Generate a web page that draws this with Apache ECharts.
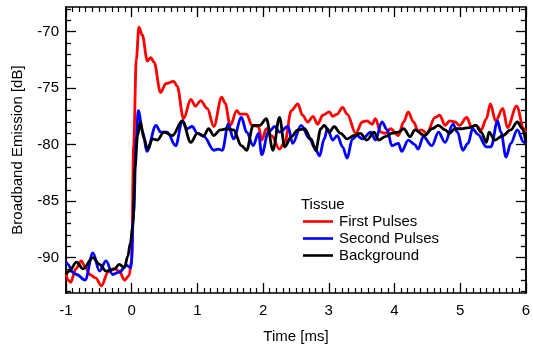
<!DOCTYPE html>
<html>
<head>
<meta charset="utf-8">
<script src="https://cdn.jsdelivr.net/npm/echarts@6/dist/echarts.min.js"></script>
<style>
  html, body { margin: 0; padding: 0; background: #fff; }
  #main { width: 533px; height: 349px; }
</style>
</head>
<body>
<div id="main"></div>
<script>
// time [ms] and broadband emission [dB]
var redTime = [-1.00,-0.97,-0.93,-0.85,-0.77,-0.70,-0.64,-0.55,-0.46,-0.36,-0.26,-0.19,-0.11,-0.04,0.00,0.03,0.07,0.11,0.16,0.24,0.29,0.34,0.44,0.52,0.64,0.69,0.79,0.90,0.97,1.05,1.15,1.25,1.37,1.42,1.50,1.60,1.65,1.75,1.83,1.93,1.98,2.05,2.13,2.25,2.33,2.43,2.53,2.60,2.68,2.76,2.83,2.91,3.01,3.06,3.13,3.21,3.28,3.41,3.51,3.58,3.66,3.71,3.79,3.86,3.94,4.06,4.14,4.21,4.29,4.36,4.41,4.49,4.62,4.69,4.77,4.84,4.92,4.99,5.10,5.17,5.24,5.32,5.40,5.46,5.54,5.65,5.72,5.86,5.97,6.00];
var redValue = [-91.4,-92.0,-92.2,-91.0,-90.3,-90.9,-91.5,-91.8,-92.5,-91.3,-91.0,-91.2,-92.0,-91.6,-90.2,-80.0,-72.5,-69.6,-70.3,-72.6,-72.3,-72.7,-75.4,-74.6,-74.4,-74.8,-77.7,-76.0,-76.6,-76.1,-76.8,-78.4,-75.8,-76.3,-78.3,-77.0,-77.3,-77.3,-78.3,-78.4,-79.6,-78.6,-79.2,-80.4,-79.8,-77.0,-76.4,-77.4,-78.0,-77.5,-78.2,-77.4,-77.1,-77.5,-77.3,-76.7,-77.3,-79.0,-78.0,-77.9,-78.2,-77.7,-78.9,-79.0,-78.6,-79.2,-78.0,-77.1,-78.0,-78.8,-78.7,-79.0,-77.6,-77.4,-78.3,-77.9,-78.0,-78.3,-77.6,-78.4,-78.3,-78.7,-77.7,-76.4,-77.9,-76.8,-78.5,-76.6,-78.6,-78.9];

var blueTime = [-1.00,-0.97,-0.90,-0.84,-0.71,-0.59,-0.49,-0.39,-0.29,-0.19,-0.08,-0.01,0.03,0.07,0.10,0.17,0.23,0.37,0.44,0.54,0.67,0.77,0.84,0.92,1.00,1.10,1.25,1.32,1.38,1.47,1.55,1.67,1.75,1.85,1.93,1.98,2.08,2.18,2.25,2.38,2.45,2.58,2.71,2.78,2.86,2.93,2.98,3.06,3.13,3.21,3.28,3.36,3.43,3.51,3.64,3.71,3.81,3.89,3.96,4.06,4.11,4.21,4.31,4.36,4.44,4.57,4.67,4.77,4.89,4.96,5.04,5.12,5.19,5.27,5.40,5.47,5.57,5.62,5.70,5.77,5.87,5.97,6.00];
var blueValue = [-90.4,-90.6,-91.3,-91.5,-92.0,-89.6,-91.2,-90.3,-91.5,-91.3,-90.7,-90.9,-86.0,-79.5,-77.0,-78.9,-80.6,-78.3,-78.9,-78.9,-80.1,-77.9,-78.6,-78.4,-79.0,-79.3,-80.5,-80.4,-80.5,-78.2,-79.5,-77.6,-78.9,-80.1,-79.0,-80.9,-78.9,-78.4,-78.9,-78.4,-79.9,-78.3,-79.5,-80.2,-81.0,-79.5,-78.6,-79.6,-79.2,-80.2,-81.2,-79.5,-79.2,-79.5,-78.9,-79.6,-78.0,-78.7,-80.1,-79.9,-80.6,-79.6,-80.0,-80.4,-79.3,-80.1,-78.9,-79.8,-78.2,-78.9,-80.5,-79.9,-78.6,-79.1,-80.2,-80.2,-77.9,-78.9,-81.1,-79.9,-78.7,-79.8,-79.9];

var blackTime = [-1.00,-0.95,-0.84,-0.74,-0.59,-0.49,-0.39,-0.26,-0.19,-0.11,-0.06,-0.02,0.02,0.05,0.09,0.13,0.19,0.24,0.32,0.39,0.49,0.62,0.77,0.90,1.00,1.10,1.17,1.25,1.35,1.45,1.55,1.67,1.75,1.85,1.95,2.05,2.15,2.25,2.33,2.43,2.53,2.63,2.73,2.80,2.88,2.93,3.01,3.08,3.18,3.28,3.38,3.48,3.58,3.69,3.76,3.86,3.96,4.06,4.14,4.24,4.31,4.46,4.57,4.67,4.77,4.84,4.92,5.02,5.14,5.24,5.32,5.40,5.44,5.53,5.65,5.77,5.87,5.95,6.00];
var blackValue = [-91.5,-91.2,-90.4,-91.0,-90.0,-90.6,-91.2,-91.0,-90.6,-90.9,-89.9,-88.7,-87.0,-82.0,-79.2,-78.0,-79.5,-80.4,-79.5,-79.6,-78.9,-79.2,-77.9,-79.8,-79.0,-79.2,-78.6,-79.2,-78.7,-78.6,-78.7,-80.1,-80.5,-78.3,-78.3,-77.7,-80.5,-77.6,-80.2,-79.3,-78.7,-78.6,-79.5,-80.5,-78.6,-78.3,-78.9,-78.4,-79.0,-79.5,-79.2,-79.0,-79.6,-78.9,-79.6,-79.3,-79.0,-78.9,-78.6,-79.3,-78.7,-79.2,-78.6,-78.3,-78.7,-79.0,-78.6,-78.6,-78.5,-78.3,-78.9,-79.8,-78.9,-79.6,-79.2,-78.7,-78.0,-78.6,-79.8];

var seriesNames = ['First Pulses', 'Second Pulses', 'Background'];
var yMajor = [-90, -85, -80, -75, -70];
var yMinor = [-93, -92, -91, -89, -88, -87, -86, -84, -83, -82, -81, -79, -78, -77, -76, -74, -73, -72, -71, -69, -68];

function pairs(t, v) {
    var out = [];
    for (var i = 0; i < t.length; i++) out.push([t[i], v[i]]);
    return out;
}

var font = "'Liberation Sans', Arial, sans-serif";
var dom = document.getElementById('main');
var myChart = echarts.init(dom, null, {renderer: 'canvas'});

var axisLine = {show: true, onZero: false, lineStyle: {color: '#000', width: 1.5}};

function yAx(pos, ticks, len, labels) {
    return {
        type: 'value', position: pos, min: -93.14, max: -67.82,
        axisLine: axisLine,
        axisTick: {show: true, inside: true, length: len, customValues: ticks, lineStyle: {color: '#000', width: 1.3}},
        axisLabel: {show: labels, customValues: yMajor, color: '#000', fontSize: 15, fontFamily: font, margin: 7},
        splitLine: {show: false}
    };
}

function xAx(pos, labels) {
    return {
        type: 'value', position: pos, min: -1, max: 6, interval: 1,
        axisLine: axisLine,
        axisTick: {show: true, inside: true, length: 10, lineStyle: {color: '#000', width: 1.3}},
        minorTick: {show: true, splitNumber: 10, length: 5, lineStyle: {color: '#000', width: 1.2}},
        axisLabel: {show: labels, color: '#000', fontSize: 15, fontFamily: font, margin: 10},
        splitLine: {show: false}
    };
}

var xBottom = xAx('bottom', true);
xBottom.name = 'Time [ms]';
xBottom.nameLocation = 'middle';
xBottom.nameGap = 36;
xBottom.nameTextStyle = {color: '#000', fontSize: 15, fontFamily: font};

var yLeft = yAx('left', yMajor, 10, true);
yLeft.name = 'Broadband Emission [dB]';
yLeft.nameLocation = 'middle';
yLeft.nameGap = 41;
yLeft.nameTextStyle = {color: '#000', fontSize: 15, fontFamily: font};

function line(name, color, t, v) {
    return {
        name: name, type: 'line', xAxisIndex: 0, yAxisIndex: 0,
        data: pairs(t, v), symbol: 'none', smooth: 0.35, smoothMonotone: 'x',
        lineStyle: {color: color, width: 2.8}, itemStyle: {color: color},
        animation: false
    };
}

var option = {
    animation: false,
    grid: {left: 66, right: 3, top: 7, bottom: 52, containLabel: false},
    title: {
        text: 'Tissue', left: 301, top: 197, padding: 0,
        textStyle: {color: '#000', fontSize: 15, fontWeight: 'normal', fontFamily: font}
    },
    legend: {
        orient: 'vertical', left: 303, top: 214, padding: 0,
        icon: 'rect', itemWidth: 30, itemHeight: 2.6, itemGap: 2,
        data: seriesNames,
        textStyle: {color: '#000', fontSize: 15, lineHeight: 15, fontFamily: font, padding: [0, 0, 0, 1]}
    },
    xAxis: [xBottom, xAx('top', false)],
    yAxis: [yLeft, yAx('left', yMinor, 5, false), yAx('right', yMajor, 10, false), yAx('right', yMinor, 5, false)],
    series: [
        line(seriesNames[0], '#ff0000', redTime, redValue),
        line(seriesNames[1], '#0000ff', blueTime, blueValue),
        line(seriesNames[2], '#000000', blackTime, blackValue)
    ]
};
myChart.setOption(option);
</script>
</body>
</html>
